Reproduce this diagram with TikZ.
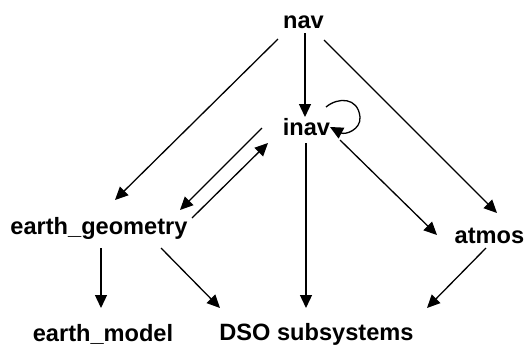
\documentclass[tikz,border=0pt]{standalone}
\usepackage{fontspec}
\setmainfont{Liberation Sans}
\usetikzlibrary{arrows.meta,calc}

\begin{document}
\begin{tikzpicture}[x=1pt,y=-1pt,
  lbl/.style={inner sep=0pt,anchor=base,font=\fontsize{23.6}{28}\selectfont\bfseries},
  arr/.style={line width=1.3pt,-{Triangle[length=13pt,width=12pt]}}]
  \useasboundingbox (0,0) rectangle (525,346);

  % module labels, placed by their baselines
  \node[lbl] (nav)  at (303.5,28)  {nav};
  \node[lbl] (inav) at (306.5,135) {inav};
  \node[lbl] (eg)   at (99,234)    {earth\_geometry};
  \node[lbl] (atm)  at (489.5,243) {atmos};
  \node[lbl] (em)   at (103,341)   {earth\_model};
  \node[lbl] (dso)  at (316.5,340) {DSO subsystems};

  % dependencies
  \draw[arr] ($(nav.base)+(1.5,5)$)    -- ($(inav.base)+(-1.5,-18)$);
  \draw[arr] ($(nav.base)+(-25.5,11)$) -- ($(eg.base)+(16,-34)$);
  \draw[arr] ($(nav.base)+(20.5,12)$)  -- ($(atm.base)+(7.5,-30)$);

  \draw[arr] ($(inav.base)+(-44.5,-7)$) -- ($(eg.base)+(81,-24)$);
  \draw[arr] ($(eg.base)+(93,-16)$)     -- ($(inav.base)+(-38.5,8)$);
  \draw[arr] ($(inav.base)+(19.5,-28)$)
      .. controls ($(inav.base)+(31.5,-38)$) and ($(inav.base)+(51.5,-38)$) .. ($(inav.base)+(53.5,-18)$)
      .. controls ($(inav.base)+(54.5,-5)$) and ($(inav.base)+(38.5,0)$) .. ($(inav.base)+(23.5,-8)$);
  \draw[arr] ($(inav.base)+(-0.5,8)$)  -- ($(dso.base)+(-10.5,-32)$);
  \draw[arr] ($(inav.base)+(33.5,5)$)  -- ($(atm.base)+(-52.5,-8)$);

  \draw[arr] ($(atm.base)+(-3.5,5)$) -- ($(dso.base)+(110.5,-32)$);
  \draw[arr] ($(eg.base)+(2,14)$)    -- ($(em.base)+(-2,-33)$);
  \draw[arr] ($(eg.base)+(62,14)$)   -- ($(dso.base)+(-96.5,-32)$);
\end{tikzpicture}
\end{document}
